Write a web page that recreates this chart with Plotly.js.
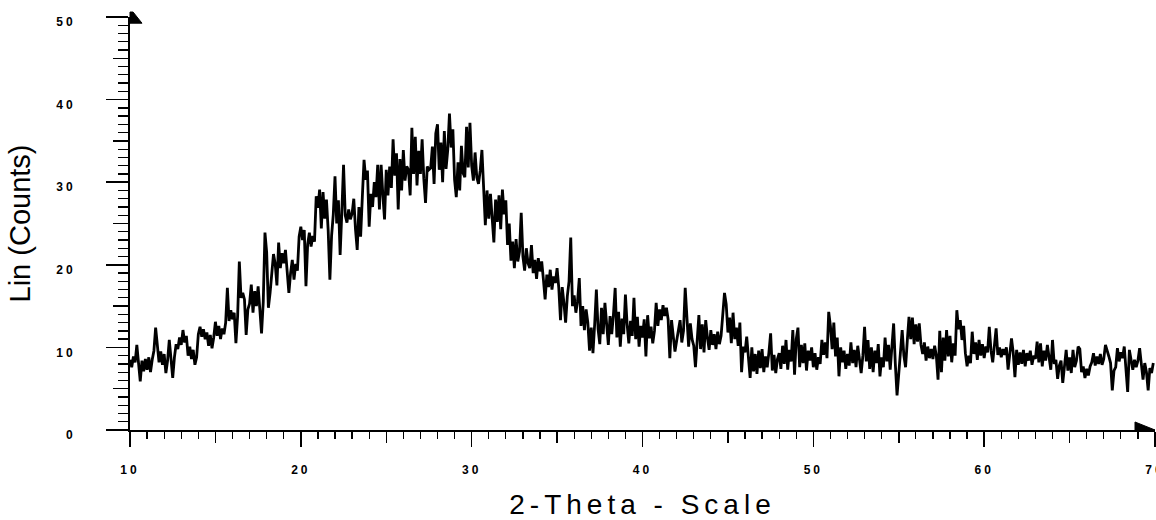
<!DOCTYPE html>
<html>
<head>
<meta charset="utf-8">
<script src="https://cdn.plot.ly/plotly-3.0.1.min.js"></script>
<style>
  html, body { margin: 0; padding: 0; background: #fff; }
  #chart { width: 1156px; height: 520px; }
  .xtick text, .ytick text { letter-spacing: 3px; }
  .g-xtitle text { letter-spacing: 5px; }
</style>
</head>
<body>
<div id="chart"></div>
<script>
// 2-Theta grid: start angle and step (degrees)
const thetaStart = 10.0;
const thetaStep = 0.1;

// Lin (Counts), 10 values per degree (10.0 ... 69.9)
const counts10_19 = [
  8.5, 7.6, 8.9, 8.2, 10.3, 8.0, 5.9, 8.4, 7.1, 8.6,
  7.3, 8.8, 7.0, 8.5, 9.6, 12.4, 10.1, 8.2, 9.5, 7.9,
  9.2, 6.9, 8.4, 10.9, 8.6, 6.3, 8.8, 10.4, 9.8, 11.2,
  10.3, 12.1, 10.6, 11.4, 9.0, 10.1, 8.6, 9.7, 7.9, 8.8,
  11.6, 12.5, 11.3, 12.2, 11.0, 11.8, 10.2, 11.5, 9.9, 11.2,
  13.1, 11.4, 12.6, 11.0, 12.3, 11.6, 13.0, 17.2, 13.2, 14.5,
  13.4, 14.2, 10.5, 13.8, 20.4, 16.0, 16.6, 15.8, 11.5, 14.6,
  15.3, 17.6, 14.2, 16.8, 15.0, 17.4, 14.6, 11.7, 15.5, 23.9,
  21.5, 14.8, 16.6, 19.2, 21.3, 20.1, 17.5, 22.7, 19.6, 21.4,
  20.2, 21.8, 19.4, 16.6, 19.0, 20.6, 18.2, 20.1, 19.3, 23.4
];
const counts20_29 = [
  24.6, 23.0, 24.2, 17.4, 22.5, 23.9, 22.2, 23.5, 22.8, 28.3,
  26.9, 29.1, 24.4, 28.8, 25.6, 27.9, 24.2, 18.2, 23.5, 26.1,
  30.7, 25.0, 27.8, 21.2, 26.4, 32.1, 26.0, 25.1, 26.7, 25.5,
  26.2, 28.0, 24.3, 21.8, 27.0, 23.4, 28.2, 32.7, 30.3, 31.4,
  24.6, 28.6, 27.0, 30.0, 28.2, 32.1, 26.7, 32.1, 28.5, 25.5,
  31.5, 28.4, 31.9, 29.3, 35.2, 30.8, 33.5, 26.7, 32.8, 29.0,
  33.9, 30.2, 31.9, 31.5, 28.4, 36.6, 31.0, 35.5, 29.6, 33.8,
  31.0, 35.2, 30.4, 27.5, 31.9, 31.5, 31.7, 34.3, 29.8, 35.9,
  37.0, 31.5, 34.8, 30.0, 36.2, 31.6, 33.9, 38.3, 34.2, 36.4,
  30.3, 28.2, 32.4, 29.0, 34.4, 31.1, 30.6, 36.7, 31.8, 37.2
];
const counts30_39 = [
  32.0, 30.2, 33.6, 30.6, 29.8, 31.4, 33.9, 28.5, 24.8, 29.0,
  25.6, 28.6, 24.9, 22.7, 27.9, 25.2, 28.4, 24.3, 29.1, 26.1,
  27.8, 22.4, 25.0, 20.5, 22.8, 19.6, 23.1, 20.4, 21.6, 26.3,
  21.0, 19.3, 22.0, 20.2, 19.6, 22.4, 19.0, 20.6, 18.3, 20.8,
  19.2, 20.4, 18.2, 15.8, 18.8, 17.3, 19.4, 17.0, 18.6, 17.8,
  19.6, 17.2, 13.3, 17.3, 15.4, 13.0, 16.2, 18.0, 23.3, 15.0,
  16.3, 14.2, 15.6, 18.4, 12.6, 15.0, 12.1, 14.6, 13.0, 9.6,
  12.4, 9.3, 12.8, 17.0, 12.2, 10.4, 14.8, 11.6, 15.4, 12.8,
  10.3, 13.8, 11.6, 14.0, 17.2, 11.2, 14.3, 10.1, 13.5, 11.6,
  16.4, 12.8, 10.5, 13.2, 11.4, 16.0, 11.0, 13.7, 10.1, 12.6
];
const counts40_49 = [
  11.2, 13.4, 8.9, 13.9, 11.1, 12.5, 10.5, 12.0, 15.4, 12.6,
  14.6, 13.3, 15.1, 13.8, 14.8, 13.4, 8.7, 13.3, 11.2, 9.5,
  10.8, 12.4, 13.3, 10.6, 12.0, 17.2, 13.0, 10.1, 12.9, 11.0,
  10.2, 7.6, 10.8, 13.9, 9.8, 12.8, 9.4, 13.3, 11.2, 9.7,
  12.1, 10.3, 11.6, 9.8, 11.9, 10.4, 11.4, 14.0, 16.6, 15.2,
  11.8, 13.6, 10.5, 14.2, 11.0, 12.4, 10.2, 13.0, 7.0, 10.1,
  9.4, 11.3, 8.2, 6.3, 10.0, 7.1, 9.2, 6.8, 9.6, 7.5,
  9.8, 7.0, 8.9, 7.6, 9.4, 11.7, 7.2, 9.1, 6.9, 8.6,
  9.3, 7.4, 10.2, 8.0, 10.9, 7.3, 9.7, 8.3, 12.1, 6.7,
  11.0, 12.4, 7.6, 10.3, 8.1, 10.5, 7.2, 9.6, 8.4, 10.0
];
const counts50_59 = [
  7.6, 9.3, 7.3, 8.8, 8.0, 10.9, 9.1, 10.6, 8.7, 14.3,
  12.6, 9.8, 13.0, 8.9, 11.2, 6.5, 10.0, 8.2, 9.6, 7.4,
  9.2, 7.8, 10.6, 8.1, 9.7, 7.6, 10.2, 8.4, 6.9, 9.0,
  12.5, 8.3, 10.9, 7.4, 10.0, 7.0, 9.6, 8.1, 10.4, 6.5,
  8.8, 7.6, 11.2, 8.3, 10.3, 7.3, 9.6, 12.9, 8.0, 4.2,
  6.8, 9.5, 12.1, 9.0, 7.6, 10.8, 13.7, 11.0, 13.6, 10.4,
  12.8, 10.7, 12.9, 10.3, 9.2, 10.6, 8.4, 10.1, 8.7, 9.8,
  8.6, 10.2, 9.0, 6.1, 12.0, 7.0, 11.2, 8.4, 12.1, 8.9,
  11.4, 8.2, 10.5, 9.0, 14.5, 12.2, 13.3, 10.9, 12.6, 9.3,
  7.7, 9.0, 8.1, 11.9, 9.2, 10.6, 8.5, 10.9, 9.0, 10.4
];
const counts60_69 = [
  8.7, 10.1, 9.4, 12.5, 9.6, 8.2, 10.0, 12.3, 9.1, 10.0,
  8.8, 9.8, 9.1, 10.0, 7.3, 8.9, 11.1, 9.4, 6.4, 9.7,
  7.9, 9.4, 8.0, 9.7, 7.7, 9.3, 8.4, 9.6, 7.9, 9.0,
  8.6, 10.7, 8.2, 10.5, 7.7, 9.6, 8.4, 10.3, 8.9, 7.3,
  10.9, 8.0, 8.5, 6.2, 7.8, 8.4, 5.7, 7.5, 9.7, 7.2,
  8.8, 6.9, 9.7, 7.6, 8.4, 10.1, 9.8, 7.0, 7.7, 6.3,
  7.4, 6.6, 7.7, 8.2, 9.3, 7.8, 8.9, 8.0, 9.2, 7.9,
  8.6, 10.3, 9.4, 8.9, 8.1, 4.8, 7.2, 7.6, 9.9, 8.3,
  9.4, 8.7, 10.1, 6.9, 4.6, 9.7, 8.2, 7.3, 8.5, 7.6,
  8.4, 9.9, 8.0, 6.1, 8.1, 7.0, 4.8, 7.5, 6.9, 8.1
];

// Axis ranges and tick labels
const xRange = [10, 70];
const yRange = [0, 50];
const xTickVals = [10, 20, 30, 40, 50, 60, 70];
const xTickText = ['10', '20', '30', '40', '50', '60', '70'];
const yTickVals = [0, 10, 20, 30, 40, 50];
const yTickText = ['0', '10', '20', '30', '40', '50'];
const xTitle = '2-Theta - Scale';
const yTitle = 'Lin (Counts)';

const counts = [].concat(counts10_19, counts20_29, counts30_39, counts40_49, counts50_59, counts60_69);
const theta = counts.map((_, i) => +(thetaStart + i * thetaStep).toFixed(2));

const FONT = 'Liberation Sans, Arial, sans-serif';

const traces = [
  {
    x: theta, y: counts, type: 'scatter', mode: 'lines',
    line: { color: '#000', width: 2.8 },
    hoverinfo: 'x+y', showlegend: false
  },
  { x: [], y: [], xaxis: 'x2', yaxis: 'y2', type: 'scatter', mode: 'lines', showlegend: false, hoverinfo: 'skip' }
];

const layout = {
  width: 1156, height: 520,
  margin: { l: 130, r: 1, t: 17, b: 90, pad: 0 },
  paper_bgcolor: '#fff', plot_bgcolor: '#fff',
  showlegend: false,
  xaxis: {
    range: xRange, autorange: false,
    tickmode: 'array', tickvals: xTickVals, ticktext: xTickText,
    ticks: 'outside', ticklen: 15, tickwidth: 1.5, tickcolor: '#000',
    minor: { ticks: 'outside', tickmode: 'linear', tick0: 10, dtick: 1, ticklen: 7, tickwidth: 1.3, tickcolor: '#000', showgrid: false },
    showline: true, linecolor: '#000', linewidth: 2,
    showgrid: false, zeroline: false,
    tickfont: { family: FONT, size: 12, color: '#000', weight: 'bold' },
    ticklabelstandoff: 13,
    ticklabeloverflow: 'allow',
    title: { text: xTitle, font: { family: FONT, size: 28, color: '#000' }, standoff: 22 },
    automargin: false
  },
  xaxis2: {
    overlaying: 'x', anchor: 'y', range: xRange, autorange: false,
    tickmode: 'linear', tick0: 15, dtick: 10,
    ticks: 'outside', ticklen: 12, tickwidth: 1.5, tickcolor: '#000',
    showticklabels: false, showline: false, showgrid: false, zeroline: false
  },
  yaxis: {
    range: yRange, autorange: false,
    tickmode: 'array', tickvals: yTickVals, ticktext: yTickText,
    ticks: 'outside', ticklen: 22, tickwidth: 1.5, tickcolor: '#000',
    minor: { ticks: 'outside', tickmode: 'linear', tick0: 0, dtick: 1, ticklen: 10, tickwidth: 1.3, tickcolor: '#000', showgrid: false },
    showline: true, linecolor: '#000', linewidth: 2,
    showgrid: false, zeroline: false,
    tickfont: { family: FONT, size: 12, color: '#000', weight: 'bold' },
    ticklabelstandoff: 28,
    ticklabelshift: 5,
    ticklabeloverflow: 'allow',
    title: { text: yTitle, font: { family: FONT, size: 29, color: '#000' }, standoff: 17 },
    automargin: false
  },
  yaxis2: {
    overlaying: 'y', anchor: 'x', range: yRange, autorange: false,
    tickmode: 'linear', tick0: 5, dtick: 10,
    ticks: 'outside', ticklen: 16, tickwidth: 1.5, tickcolor: '#000',
    showticklabels: false, showline: false, showgrid: false, zeroline: false
  },
  shapes: [
    { type: 'path', xref: 'paper', yref: 'paper',
      path: 'M 0,1.012 L 0.003,1.012 L 0.0117,0.985 L 0,0.985 Z',
      fillcolor: '#000', line: { color: '#000', width: 1 } },
    { type: 'path', xref: 'paper', yref: 'paper',
      path: 'M 0.9805,0.0194 L 0.9805,0 L 1,0 Z',
      fillcolor: '#000', line: { color: '#000', width: 1 } }
  ]
};

Plotly.newPlot('chart', traces, layout, { displayModeBar: false, staticPlot: true });
</script>
</body>
</html>
